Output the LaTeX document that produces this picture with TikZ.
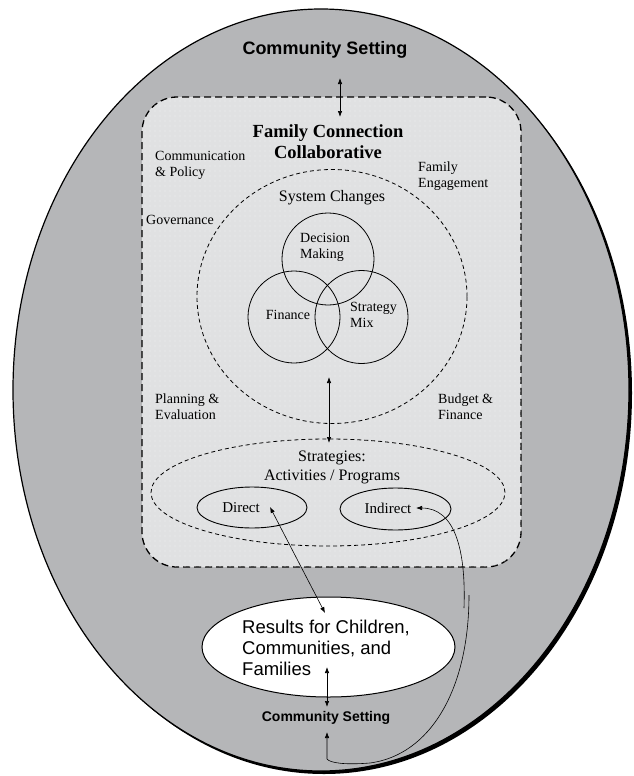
\documentclass[tikz,border=0pt]{standalone}
\usepackage{fontspec}
\setmainfont{Liberation Serif}
\setsansfont{Liberation Sans}
\usetikzlibrary{arrows.meta,patterns.meta,shapes.geometric}
\definecolor{outergray}{HTML}{B5B6B8}
\definecolor{innergray}{HTML}{E0E1E2}
\definecolor{dotgray}{HTML}{EEEEEF}
\begin{document}
\begin{tikzpicture}[x=1pt,y=-1pt,
  lab/.style={inner sep=0pt, font=\fontsize{14}{16}\selectfont, align=left},
  mid/.style={inner sep=0pt, font=\fontsize{16}{19}\selectfont, align=center},
  dblarrow/.style={line width=0.7pt, {Latex[length=6pt,width=4.5pt]}-{Latex[length=6pt,width=4.5pt]}},
  onearrow/.style={line width=0.6pt, -{Latex[length=6pt,width=4.5pt]}},
  ring/.style={draw, circle, line width=0.8pt, minimum size=92pt, inner sep=0pt},
  dashring/.style={draw, ellipse, line width=0.8pt, dash pattern=on 4pt off 3pt, inner sep=0pt},
  solidell/.style={draw, ellipse, line width=0.9pt, inner sep=0pt}]
\useasboundingbox (0,0) rectangle (633,776);
% outer community ellipse with shadow
\fill[black] (324,393) ellipse [x radius=308pt, y radius=381pt];
\node[draw, ellipse, fill=outergray, line width=1.2pt, minimum width=616pt, minimum height=762pt, inner sep=0pt] (outer) at (321,390) {};
% collaborative box
\node[draw, rounded corners=35pt, line width=1.3pt, dash pattern=on 7pt off 4pt,
  fill=innergray, postaction={pattern={Dots[distance=5pt,radius=0.6pt]}, pattern color=dotgray},
  minimum width=379pt, minimum height=470pt, inner sep=0pt] (box) at (331.5,332) {};
% texts
\node[inner sep=0pt, font=\sffamily\bfseries\fontsize{18}{21}\selectfont] (ctop) at (325,50) {Community Setting};
\node[inner sep=0pt, font=\bfseries\fontsize{18.5}{21}\selectfont, align=center] (title) at (328,142) {Family Connection\\Collaborative};
\node[lab, anchor=west] (comm) at (155,165) {Communication\\\& Policy};
\node[lab, anchor=west] (gov) at (146,220) {Governance};
\node[lab, anchor=west, font=\fontsize{14}{15.5}\selectfont] (fameng) at (418,176) {Family\\Engagement};
\node[lab, anchor=west] (plan) at (155,407) {Planning \&\\Evaluation};
\node[lab, anchor=west] (budget) at (438,407) {Budget \&\\Finance};
% system changes
\node[dashring, minimum width=270pt, minimum height=254pt] (sys) at (332,296.5) {};
\node[mid] (systxt) at (332,198) {System Changes};
\node[ring] (dec) at (328,259) {};
\node[ring] (fin) at (294,317) {};
\node[ring, minimum size=93pt] (mix) at (361.5,317) {};
\node[lab, anchor=west] (dectxt) at (300,247) {Decision\\Making};
\node[lab] (fintxt) at (288,315) {Finance};
\node[lab, anchor=west] (mixtxt) at (350,315) {Strategy\\Mix};
% strategies
\node[dashring, minimum width=354pt, minimum height=107pt] (strat) at (328,492.5) {};
\node[mid] (strattxt) at (332,467.5) {Strategies:\\Activities / Programs};
\node[solidell, minimum width=110pt, minimum height=41pt] (direct) at (252,507.5) {};
\node[solidell, minimum width=111pt, minimum height=42pt] (indirect) at (395.5,509) {};
\node[lab, font=\fontsize{15}{17}\selectfont] (dirtxt) at (241,508) {Direct};
\node[lab, font=\fontsize{15}{17}\selectfont] (indtxt) at (388,508) {Indirect};
% results
\node[draw, ellipse, fill=white, line width=1pt, minimum width=253pt, minimum height=100pt, inner sep=0pt] (results) at (328.5,647) {};
\node[inner sep=0pt, anchor=west, align=left, font=\sffamily\fontsize{18.5}{21}\selectfont] (restxt) at (242,648) {Results for Children,\\Communities, and\\Families};
\node[inner sep=0pt, font=\sffamily\bfseries\fontsize{14}{16}\selectfont] (cbot) at (326,718) {Community Setting};
% arrow end points
\coordinate (a1) at (340,78);
\coordinate (a2) at (340,117);
\coordinate (b1) at (329,377);
\coordinate (b2) at (329,443);
\coordinate (c1) at (270,507);
\coordinate (c2) at (325,613);
\coordinate (d1) at (327,667);
\coordinate (d2) at (327,707);
\coordinate (e1) at (416,508);
\coordinate (e2) at (464,608);
\coordinate (f1) at (469,595);
\coordinate (f2) at (327,759);
\coordinate (f3) at (327,732);
% connectors
\draw[dblarrow] (a1) -- (a2);
\draw[dblarrow] (b1) -- (b2);
\draw[dblarrow, line width=0.6pt] (c1) -- (c2);
\draw[dblarrow] (d1) -- (d2);
\draw[onearrow] (e2) .. controls (466,550) and (455,508) .. (e1);
\draw[onearrow] (f1) .. controls (469,690) and (430,755) .. (370,763) .. controls (345,765) and (330,763) .. (f2) -- (f3);
\end{tikzpicture}
\end{document}
